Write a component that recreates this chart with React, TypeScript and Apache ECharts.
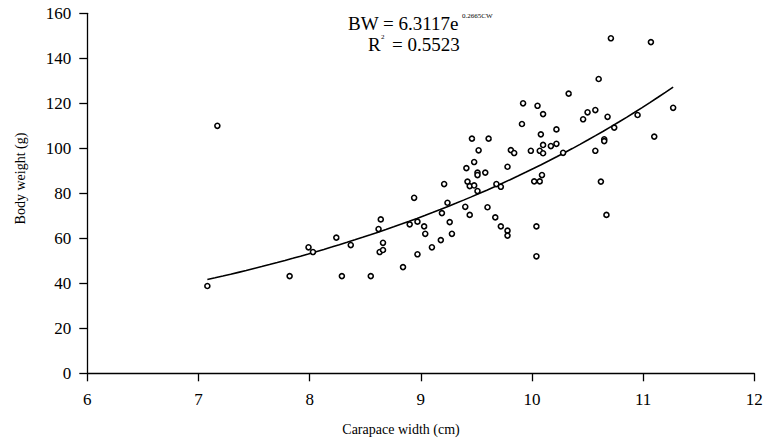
import React, { useEffect, useRef } from "react";
import * as echarts from "echarts";

// Carapace width (cm) and body weight (g)
const carapaceWidth: number[] = [
  7.08, 7.17, 7.82, 7.99, 8.03, 8.24, 8.29, 8.37, 8.55, 8.62,
  8.64, 8.66, 8.63, 8.66, 8.84, 8.94, 8.90, 8.97, 8.97,
  9.24, 9.19, 9.03, 9.04, 9.26, 9.28, 9.10, 9.18, 9.40, 9.44,
  9.51, 9.60, 9.67, 9.72, 9.78, 9.78, 10.04, 10.04, 10.67,
  10.71, 11.07, 10.60, 10.33, 9.92, 10.05, 10.10, 9.91, 10.46, 10.50,
  10.57, 10.68, 10.95, 11.27, 10.74, 11.10, 10.65, 10.65, 10.57, 10.62,
  10.22, 10.08, 10.10, 10.17, 10.22, 10.07, 9.99, 10.10, 10.28, 9.81,
  9.84, 9.78, 9.46, 9.61, 9.52, 9.48, 9.41, 9.51, 9.51, 9.58,
  9.42, 9.44, 9.48, 9.68, 9.72, 10.02, 10.07, 10.09, 9.21,
];
const bodyWeight: number[] = [
  38.8, 110.0, 43.2, 56.0, 53.9, 60.3, 43.2, 57.0, 43.2, 64.1,
  68.4, 58.0, 53.9, 54.8, 47.2, 78.0, 66.2, 67.4, 52.9,
  75.8, 71.2, 65.3, 62.0, 67.2, 62.0, 56.0, 59.2, 74.0, 70.4,
  81.0, 73.8, 69.3, 65.3, 63.4, 61.2, 65.3, 52.0, 70.4,
  148.9, 147.2, 130.8, 124.3, 120.0, 118.9, 115.2, 110.8, 112.9, 116.0,
  117.0, 114.0, 114.8, 118.0, 109.2, 105.2, 104.0, 103.2, 98.9, 85.2,
  108.4, 106.2, 101.5, 101.0, 102.0, 98.9, 98.9, 97.8, 98.0, 99.2,
  97.9, 91.8, 104.3, 104.3, 99.1, 93.9, 91.2, 89.2, 88.1, 89.2,
  85.2, 83.2, 83.5, 84.1, 82.9, 85.3, 85.3, 88.1, 84.1,
];

// Fitted curve stated on the chart: BW = 6.3117 e^(0.2665 CW)
const fitA = 6.3117;
const fitB = 0.2665;
const fitRange: number[] = [7.08, 11.27];

const xTicks = { min: 6, max: 12, interval: 1 };
const yTicks = { min: 0, max: 160, interval: 20 };

const SERIF = "Times New Roman, serif";

function txt(text: string, x: number, y: number, size: number, align: string = "left", rotation = 0) {
  return {
    type: "text",
    x,
    y,
    rotation,
    style: {
      text,
      fontSize: size,
      fontFamily: SERIF,
      fill: "#000",
      align,
      verticalAlign: "middle",
    },
  };
}

export default function App() {
  const ref = useRef<HTMLDivElement>(null);
  useEffect(() => {
    if (!ref.current) return;
    const chart = echarts.init(ref.current, null, { renderer: "svg" });
    const points = carapaceWidth.map((x, i) => [x, bodyWeight[i]]);
    const curve: number[][] = [];
    const steps = 60;
    for (let i = 0; i <= steps; i++) {
      const x = fitRange[0] + ((fitRange[1] - fitRange[0]) * i) / steps;
      curve.push([x, fitA * Math.exp(fitB * x)]);
    }
    const axisCommon = {
      type: "value" as const,
      axisLine: { show: true, onZero: false, lineStyle: { color: "#000", width: 1.3 } },
      axisTick: { show: true, inside: false, length: 8, lineStyle: { color: "#000", width: 1.3 } },
      splitLine: { show: false },
    };
    chart.setOption({
      animation: false,
      backgroundColor: "#fff",
      textStyle: { fontFamily: SERIF },
      grid: { left: 87.3, right: 10.7, top: 13.3, bottom: 69.7, outerBoundsMode: "none" },
      xAxis: {
        ...axisCommon,
        ...xTicks,
        axisLabel: { color: "#000", fontSize: 17, fontFamily: SERIF, margin: 18 },
      },
      yAxis: {
        ...axisCommon,
        ...yTicks,
        axisLabel: { color: "#000", fontSize: 17, fontFamily: SERIF, margin: 16 },
      },
      series: [
        {
          type: "line",
          data: curve,
          showSymbol: false,
          smooth: false,
          lineStyle: { color: "#000", width: 1.6 },
          z: 2,
        },
        {
          type: "scatter",
          data: points,
          symbol: "circle",
          symbolSize: 5,
          itemStyle: { color: "#fff", borderColor: "#000", borderWidth: 1.6, opacity: 1 },
          z: 3,
        },
      ],
      graphic: [
        txt("BW = 6.3117e", 348, 23.5, 19),
        txt("0.2665CW", 462, 15.5, 7),
        txt("R", 368, 44, 19),
        txt("2", 381, 37, 7),
        txt("= 0.5523", 392, 44, 19),
        txt("Carapace width (cm)", 401, 429, 14, "center"),
        txt("Body weight (g)", 20, 178.5, 14, "center", Math.PI / 2),
      ],
    });
    return () => chart.dispose();
  }, []);
  return (
    <div
      ref={ref}
      style={{ position: "absolute", left: 0, top: 0, width: 765, height: 443 }}
    />
  );
}
